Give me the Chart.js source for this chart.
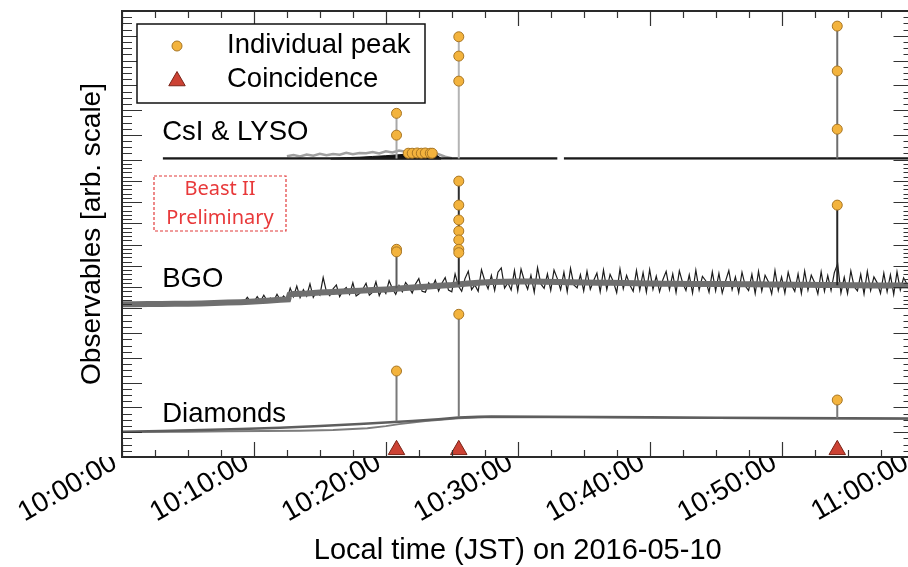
<!DOCTYPE html>
<html>
<head>
<meta charset="utf-8">
<script src="https://cdn.jsdelivr.net/npm/chart.js@4.4.1/dist/chart.umd.min.js"></script>
<style>
  html, body { margin: 0; padding: 0; background: #fff; overflow: hidden; }
  body { width: 908px; height: 567px; }
  #marco { position: relative; width: 908px; height: 567px; overflow: hidden; }
  #grafico { display: block; }
</style>
</head>
<body>
<!-- el lienzo es algo mas ancho que la ventana: el borde derecho del grafico queda recortado como en el original -->
<div id="marco"><canvas id="grafico" width="924" height="567"></canvas></div>
<script>
// =========================================================
// DATOS (minutos desde las 10:00:00 JST)
// =========================================================
const peakTimes = [20.81, 25.53, 54.22];

const csiStemBase = [0.05, 0.05, 0.05];
const csiStemTop  = [1.87, 4.96, 5.39];
const bgoStemBase = [0.95, 1.12, 1.09];
const bgoStemTop  = [2.78, 5.99, 4.86];
const diaStemBase = [1.44, 1.61, 1.56];
const diaStemTop  = [3.47, 5.76, 2.30];

// picos individuales (circulos)
const csiPeakT = [20.81, 20.81, 25.53, 25.53, 25.53, 54.22, 54.22, 54.22, 21.7, 22.0, 22.38, 22.69, 22.99, 23.37, 23.52];
const csiPeakV = [1.87, 0.99, 4.96, 4.18, 3.17, 5.39, 3.58, 1.23, 0.26, 0.26, 0.27, 0.26, 0.27, 0.26, 0.26];
const bgoPeakT = [20.81, 20.81, 25.53, 25.53, 25.53, 25.53, 25.53, 25.53, 25.53, 54.22];
const bgoPeakV = [2.78, 2.66, 5.99, 4.86, 4.16, 3.64, 3.22, 2.78, 2.62, 4.86];
const diaPeakT = [20.81, 25.53, 54.22];
const diaPeakV = [3.47, 5.76, 2.30];

// coincidencias (triangulos)
const coincT = [20.81, 25.53, 54.22];
const coincV = [0.29, 0.29, 0.29];

// CsI & LYSO
const csiBaseT = [3.1, 15, 33.0, 33.25, 33.5, 45, 60];
const csiBaseV = [0.05, 0.05, 0.05, null, 0.05, 0.05, 0.05];
const csiDarkT = [15.8, 17, 18, 19, 20, 21, 22, 23, 23.8, 24.2];
const csiDarkV = [0.05, 0.08, 0.10, 0.13, 0.16, 0.20, 0.24, 0.26, 0.20, 0.05];
const csiGrayT = [12.5, 13, 13.5, 14, 14.5, 15, 15.5, 16, 16.5, 17, 17.5, 18, 18.5, 19, 19.5, 20, 20.5, 21, 21.5, 22, 22.5, 23, 23.5, 24, 24.5, 25];
const csiGrayV = [0.14, 0.19, 0.13, 0.21, 0.16, 0.24, 0.18, 0.23, 0.20, 0.28, 0.22, 0.27, 0.26, 0.31, 0.25, 0.34, 0.29, 0.37, 0.32, 0.39, 0.33, 0.37, 0.29, 0.22, 0.12, 0.06];

// BGO: senal con ruido (negro) y banda gris
const bgoNoiseT = [
  0, 0.25, 0.5, 0.75, 1, 1.25, 1.5, 1.75, 2, 2.25, 2.5, 2.75, 3, 3.25, 3.5, 3.75, 4, 4.25, 4.5, 4.75,
  5, 5.25, 5.5, 5.75, 6, 6.25, 6.5, 6.75, 7, 7.25, 7.5, 7.75, 8, 8.25, 8.5, 8.75, 9, 9.25, 9.5, 9.75,
  10, 10.25, 10.5, 10.75, 11, 11.25, 11.5, 11.75, 12, 12.25, 12.5, 12.75, 13, 13.25, 13.5, 13.75, 14, 14.25, 14.5, 14.75,
  15, 15.25, 15.5, 15.75, 16, 16.25, 16.5, 16.75, 17, 17.25, 17.5, 17.75, 18, 18.25, 18.5, 18.75, 19, 19.25, 19.5, 19.75,
  20, 20.25, 20.5, 20.75, 21, 21.25, 21.5, 21.75, 22, 22.25, 22.5, 22.75, 23, 23.25, 23.5, 23.75, 24, 24.25, 24.5, 24.75,
  25, 25.25, 25.5, 25.75, 26, 26.25, 26.5, 26.75, 27, 27.25, 27.5, 27.75, 28, 28.25, 28.5, 28.75, 29, 29.25, 29.5, 29.75,
  30, 30.25, 30.5, 30.75, 31, 31.25, 31.5, 31.75, 32, 32.25, 32.5, 32.75, 33, 33.25, 33.5, 33.75, 34, 34.25, 34.5, 34.75,
  35, 35.25, 35.5, 35.75, 36, 36.25, 36.5, 36.75, 37, 37.25, 37.5, 37.75, 38, 38.25, 38.5, 38.75, 39, 39.25, 39.5, 39.75,
  40, 40.25, 40.5, 40.75, 41, 41.25, 41.5, 41.75, 42, 42.25, 42.5, 42.75, 43, 43.25, 43.5, 43.75, 44, 44.25, 44.5, 44.75,
  45, 45.25, 45.5, 45.75, 46, 46.25, 46.5, 46.75, 47, 47.25, 47.5, 47.75, 48, 48.25, 48.5, 48.75, 49, 49.25, 49.5, 49.75,
  50, 50.25, 50.5, 50.75, 51, 51.25, 51.5, 51.75, 52, 52.25, 52.5, 52.75, 53, 53.25, 53.5, 53.75, 54, 54.25, 54.5, 54.75,
  55, 55.25, 55.5, 55.75, 56, 56.25, 56.5, 56.75, 57, 57.25, 57.5, 57.75, 58, 58.25, 58.5, 58.75, 59, 59.25, 59.5, 59.75, 60
];
const bgoNoiseV = [
  0.20, 0.18, 0.22, 0.19, 0.21, 0.17, 0.23, 0.20, 0.19, 0.22, 0.18, 0.21, 0.20, 0.23, 0.19, 0.21, 0.18, 0.22, 0.20, 0.21,
  0.22, 0.26, 0.21, 0.25, 0.24, 0.28, 0.23, 0.27, 0.25, 0.30, 0.24, 0.28, 0.27, 0.31, 0.26, 0.36, 0.27, 0.30, 0.52, 0.31,
  0.30, 0.55, 0.33, 0.62, 0.36, 0.48, 0.34, 0.66, 0.38, 0.58, 0.40, 0.95, 0.55, 1.05, 0.50, 0.88, 0.58, 1.15, 0.52, 0.80,
  0.62, 1.45, 0.78, 0.60, 0.92, 1.10, 0.55, 0.84, 0.98, 0.66, 1.20, 0.58, 0.70, 0.90, 1.18, 0.62, 0.76, 1.25, 0.60, 0.95,
  0.70, 1.30, 0.92, 0.66, 1.08, 0.78, 1.22, 1.00, 0.72, 1.15, 1.40, 0.80, 0.76, 1.20, 0.98, 1.32, 0.82, 1.18, 1.45, 0.86,
  0.78, 1.62, 1.05, 0.80, 1.40, 1.75, 0.88, 1.10, 0.80, 1.82, 1.30, 0.92, 1.55, 0.84, 1.70, 1.90, 0.95, 1.20, 0.86, 1.78,
  0.82, 1.85, 1.30, 0.90, 1.55, 0.76, 1.92, 1.15, 0.94, 1.62, 0.84, 1.80, 1.40, 0.88, 1.70, 0.78, 1.88, 1.10, 0.96, 1.58,
  0.82, 1.75, 0.90, 1.30, 1.66, 0.78, 1.80, 0.88, 1.60, 1.25, 0.74, 1.85, 0.92, 1.55, 1.10, 0.80, 1.78, 0.86, 1.68, 0.76,
  1.82, 0.90, 1.52, 0.78, 1.35, 1.74, 0.88, 1.62, 0.74, 1.76, 1.20, 0.84, 1.58, 0.72, 1.80, 0.86, 1.50, 1.30, 0.76, 1.72,
  0.82, 1.64, 0.72, 1.28, 1.78, 0.88, 1.48, 0.74, 1.70, 1.05, 0.84, 1.60, 0.70, 1.74, 0.82, 1.56, 1.25, 0.68, 1.78, 0.84,
  1.48, 0.72, 1.70, 1.10, 0.80, 1.62, 0.70, 1.76, 0.86, 1.56, 1.22, 0.68, 1.72, 0.80, 1.54, 0.84, 1.68, 2.10, 0.72, 1.46,
  0.70, 1.76, 1.02, 0.82, 1.60, 0.68, 1.74, 0.84, 1.48, 1.20, 0.70, 1.66, 0.78, 1.58, 0.66, 1.72, 0.86, 1.44, 1.15, 0.68, 1.54
];
const bgoBandT = [0, 1, 2, 3, 4, 5, 6, 7, 8, 9, 10, 11, 12, 12.6, 12.7,
  13, 14, 15, 16, 17, 18, 19, 20, 21, 22, 23, 24, 25, 26, 27, 28, 29, 30, 31, 32, 33, 34, 35, 36, 37, 38, 39, 40,
  41, 42, 43, 44, 45, 46, 47, 48, 49, 50, 51, 52, 53, 54, 55, 56, 57, 58, 59, 60];
const bgoBandV = [0.19, 0.19, 0.20, 0.20, 0.21, 0.22, 0.23, 0.25, 0.27, 0.29, 0.32, 0.36, 0.40, 0.42, 0.64,
  0.68, 0.70, 0.74, 0.77, 0.80, 0.83, 0.86, 0.89, 0.93, 0.98, 1.02, 1.06, 1.10, 1.16, 1.20, 1.24, 1.25, 1.26, 1.26, 1.25, 1.24, 1.23, 1.22, 1.21, 1.20, 1.19, 1.18, 1.17,
  1.16, 1.16, 1.15, 1.15, 1.14, 1.14, 1.13, 1.13, 1.12, 1.12, 1.11, 1.11, 1.10, 1.10, 1.09, 1.09, 1.08, 1.08, 1.07, 1.07];

// Diamantes: dos lineas casi superpuestas
const diaUpT = [0, 3, 6, 9, 12, 15, 18, 20, 22, 24, 25.5, 27, 28, 32, 36, 40, 45, 50, 55, 60];
const diaUpV = [1.02, 1.05, 1.09, 1.13, 1.18, 1.25, 1.33, 1.39, 1.45, 1.52, 1.59, 1.62, 1.63, 1.62, 1.61, 1.60, 1.58, 1.57, 1.56, 1.55];
const diaLoT = [0, 5, 8, 13.5, 16, 18.6, 20, 21, 23, 25.5, 28, 35, 45, 60];
const diaLoV = [1.00, 1.02, 1.04, 1.06, 1.09, 1.16, 1.25, 1.33, 1.45, 1.56, 1.61, 1.60, 1.57, 1.54];

// =========================================================
// ESTILO
// =========================================================
const FUENTE = "'Liberation Sans', Arial, Helvetica, sans-serif";
const NARANJA = '#f3b33d', NARANJA_BORDE = '#a87624';
const ROJO = '#cc4234', ROJO_BORDE = '#7a2418';
const csiStemColor = ['#a8a8a8', '#b4b4b4', '#6e6e6e'];
const bgoStemColor = ['#5c5c5c', '#2e2e2e', '#262626'];
const diaStemColor = ['#7a7a7a', '#7a7a7a', '#7a7a7a'];

// subdivisiones de las marcas de cada panel
const panelTicks = [
  { id: 'yC', minor: 4 },
  { id: 'yB', minor: 5 },
  { id: 'yD', minor: 4 }
];

Chart.defaults.font.family = FUENTE;
Chart.defaults.font.size = 28;
Chart.defaults.color = '#000';

const toPts = (ts, vs) => ts.map((t, i) => ({ x: t, y: vs[i] }));

function lineaDs(ts, vs, yAxisID, color, width, order, extra) {
  return Object.assign({
    data: toPts(ts, vs), yAxisID, borderColor: color, borderWidth: width,
    pointRadius: 0, tension: 0, spanGaps: false, fill: false, order
  }, extra || {});
}

function marcasDs(ts, vs, yAxisID, estilo, radio, relleno, borde) {
  return {
    data: toPts(ts, vs), yAxisID, showLine: false, order: 0,
    pointStyle: estilo, pointRadius: radio, backgroundColor: relleno,
    borderColor: borde, borderWidth: 1
  };
}

const datasets = [
  marcasDs(csiPeakT, csiPeakV, 'yC', 'circle', 5, NARANJA, NARANJA_BORDE),
  marcasDs(bgoPeakT, bgoPeakV, 'yB', 'circle', 5, NARANJA, NARANJA_BORDE),
  marcasDs(diaPeakT, diaPeakV, 'yD', 'circle', 5, NARANJA, NARANJA_BORDE),
  marcasDs(coincT, coincV, 'yD', 'triangle', 9.5, ROJO, ROJO_BORDE),
  lineaDs(csiBaseT, csiBaseV, 'yC', '#1a1a1a', 2.5, 2),
  lineaDs(csiDarkT, csiDarkV, 'yC', '#111', 1, 3, { fill: 'origin', backgroundColor: '#111' }),
  lineaDs(csiGrayT, csiGrayV, 'yC', '#a0a0a0', 2.5, 4),
  lineaDs(bgoBandT, bgoBandV, 'yB', '#6f6f6f', 6, 2),
  lineaDs(bgoNoiseT, bgoNoiseV, 'yB', '#1c1c1c', 1.2, 3),
  lineaDs(diaUpT, diaUpV, 'yD', '#5e5e5e', 2.5, 2),
  lineaDs(diaLoT, diaLoV, 'yD', '#7c7c7c', 1.8, 3)
];
peakTimes.forEach((t, i) => {
  datasets.push(lineaDs([t, t], [csiStemBase[i], csiStemTop[i]], 'yC', csiStemColor[i], 2, 1));
  datasets.push(lineaDs([t, t], [bgoStemBase[i], bgoStemTop[i]], 'yB', bgoStemColor[i], 2, 1));
  datasets.push(lineaDs([t, t], [diaStemBase[i], diaStemTop[i]], 'yD', diaStemColor[i], 2, 1));
});

// =========================================================
// PLUGINS: marco con marcas interiores, leyenda y textos
// =========================================================
const marcoEjes = {
  id: 'marcoEjes',
  afterDatasetsDraw(chart) {
    const { ctx, chartArea: a } = chart;
    const x = chart.scales.x;
    ctx.save();
    ctx.strokeStyle = '#333';
    ctx.lineWidth = 1.2;
    ctx.beginPath();
    const nx = Math.round((x.max - x.min) / 2.5);
    for (let i = 0; i <= nx; i++) {
      const px = Math.round(x.getPixelForValue(x.min + i * 2.5)) + 0.5;
      const len = i % 4 === 0 ? 15 : 7;
      ctx.moveTo(px, a.bottom); ctx.lineTo(px, a.bottom - len);
      ctx.moveTo(px, a.top); ctx.lineTo(px, a.top + len);
    }
    panelTicks.forEach(p => {
      const s = chart.scales[p.id];
      const n = Math.round((s.max - s.min) * p.minor);
      for (let i = 0; i <= n; i++) {
        const py = Math.round(s.getPixelForValue(s.min + i / p.minor)) + 0.5;
        const len = i % p.minor === 0 ? 20 : 10;
        ctx.moveTo(a.left, py); ctx.lineTo(a.left + len, py);
        ctx.moveTo(a.right, py); ctx.lineTo(a.right - len, py);
      }
    });
    ctx.stroke();
    ctx.lineWidth = 2;
    ctx.strokeStyle = '#2a2a2a';
    ctx.strokeRect(a.left, a.top, a.right - a.left, a.bottom - a.top);
    ctx.restore();
  }
};

const leyendaTextos = {
  id: 'leyendaTextos',
  afterDraw(chart) {
    const { ctx, chartArea: a, scales } = chart;
    ctx.save();
    ctx.font = '27.5px ' + FUENTE;
    ctx.fillStyle = '#000';
    ctx.textBaseline = 'alphabetic';
    ctx.textAlign = 'left';

    // etiquetas de panel
    const xl = scales.x.getPixelForValue(3.05);
    ctx.fillText('CsI & LYSO', xl, scales.yC.getPixelForValue(0.79));
    ctx.fillText('BGO', xl, scales.yB.getPixelForValue(1.0));
    ctx.fillText('Diamonds', xl, scales.yD.getPixelForValue(1.42));

    // leyenda
    const bx = a.left + 15, by = a.top + 13;
    ctx.fillStyle = '#fff';
    ctx.fillRect(bx, by, 288, 79);
    ctx.strokeStyle = '#111';
    ctx.lineWidth = 1.5;
    ctx.strokeRect(bx, by, 288, 79);
    ctx.lineWidth = 1;
    ctx.fillStyle = NARANJA; ctx.strokeStyle = NARANJA_BORDE;
    Chart.helpers.drawPoint(ctx, { pointStyle: 'circle', radius: 5, rotation: 0, borderWidth: 1 }, a.left + 55, a.top + 35);
    ctx.fillStyle = ROJO; ctx.strokeStyle = ROJO_BORDE;
    Chart.helpers.drawPoint(ctx, { pointStyle: 'triangle', radius: 9.5, rotation: 0, borderWidth: 1 }, a.left + 55, a.top + 70);
    ctx.fillStyle = '#000';
    ctx.fillText('Individual peak', a.left + 105, a.top + 42);
    ctx.fillText('Coincidence', a.left + 105, a.top + 76);

    // sello "Beast II Preliminary"
    ctx.strokeStyle = '#e23b3b';
    ctx.lineWidth = 1.2;
    ctx.setLineDash([3, 2]);
    ctx.strokeRect(a.left + 32, a.top + 165, 132, 55);
    ctx.setLineDash([]);
    ctx.fillStyle = '#e8393a';
    ctx.font = "20px 'Noto Sans', 'DejaVu Sans', sans-serif";
    ctx.textAlign = 'center';
    ctx.fillText('Beast II', a.left + 98, a.top + 184);
    ctx.fillText('Preliminary', a.left + 98, a.top + 213);
    ctx.restore();
  }
};

// =========================================================
// GRAFICO
// =========================================================
const ejeY = (max, extra) => Object.assign({
  type: 'linear', position: 'left', stack: 'paneles', stackWeight: 1,
  min: 0, max,
  ticks: { display: false },
  grid: { display: false },
  border: { display: false },
  afterFit: s => { s.width = 122; s.paddingTop = 0; s.paddingBottom = 0; }
}, extra || {});

new Chart(document.getElementById('grafico'), {
  type: 'line',
  data: { datasets },
  options: {
    responsive: false,
    animation: false,
    events: [],
    devicePixelRatio: 1,
    layout: { padding: { left: 0, top: 11, right: 3, bottom: 0 } },
    plugins: { legend: { display: false }, tooltip: { enabled: false } },
    scales: {
      x: {
        type: 'linear', position: 'bottom', min: 0, max: 60,
        grid: { display: false },
        border: { display: false },
        ticks: {
          stepSize: 10, autoSkip: false, minRotation: 30, maxRotation: 30,
          padding: -19, labelOffset: -7,
          callback: v => (v >= 60 ? '11:00:00' : '10:' + String(v).padStart(2, '0') + ':00')
        },
        title: { display: true, text: 'Local time (JST) on 2016-05-10', font: { size: 29 }, padding: { top: 0, bottom: -1 } },
        afterFit: s => { s.height = 110; s.paddingLeft = 0; s.paddingRight = 0; }
      },
      yD: ejeY(6),
      yB: ejeY(7, { title: { display: true, text: 'Observables [arb. scale]', padding: { top: 75, bottom: 0 } } }),
      yC: ejeY(6)
    }
  },
  plugins: [marcoEjes, leyendaTextos]
});
</script>
</body>
</html>
